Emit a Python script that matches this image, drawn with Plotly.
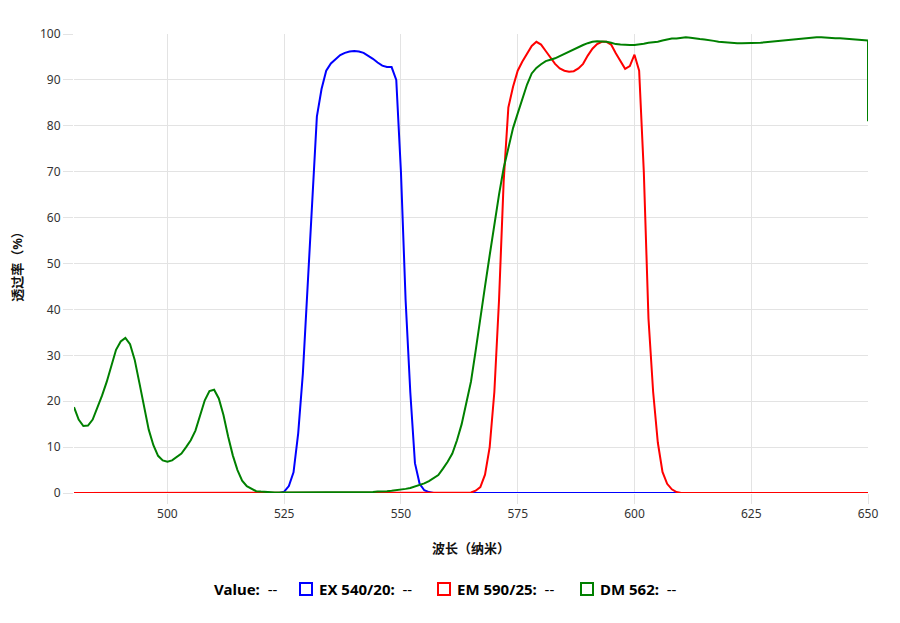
import plotly.graph_objects as go

# ---------------- data ----------------
ex_name = "EX 540/20"
em_name = "EM 590/25"
dm_name = "DM 562"

ex_x = [480] + list(range(524, 558)) + [650]
ex_y = [0, 0, 0.3, 1.5, 4.5, 13, 26, 45, 65, 82, 88, 92, 93.6, 94.6, 95.4, 95.9,
        96.2, 96.3, 96.2, 95.9, 95.3, 94.6, 93.8, 93.1, 92.8, 92.8, 90, 70, 42,
        22, 6.5, 2, 0.6, 0.2, 0, 0]

em_x = [480] + list(range(564, 611)) + [650]
em_y = [0, 0, 0.1, 0.5, 1.3, 4, 10, 22, 42, 68, 84, 88.5, 92, 94, 95.8, 97.4,
        98.3, 97.7, 96.3, 94.8, 93.5, 92.5, 92, 91.8, 91.9, 92.5, 93.5, 95.3,
        96.8, 97.8, 98.3, 98.3, 97.7, 95.8, 94, 92.4, 93, 95.5, 92, 70, 38, 22,
        11, 4.6, 2, 0.8, 0.2, 0, 0]

dm_x = list(range(480, 651)) + [650]
dm_y = ([18.7, 16.0, 14.6, 14.7, 16.0, 18.5, 21.2, 24.2, 28.0, 31.2, 33.0, 33.8,
         32.4, 29.0, 24.0, 18.6, 13.8, 10.4, 8.1, 7.1, 6.8, 7.1, 7.8, 8.6, 10.0,
         11.5, 13.6, 17.0, 20.2, 22.2, 22.5, 20.6, 17.0, 12.3, 8.2, 5.0, 2.7,
         1.5, 0.9, 0.4, 0.3, 0.2, 0.2, 0.1, 0.1]
        + [0.1] * 18
        + [0.2, 0.2, 0.3, 0.3, 0.4, 0.5, 0.6, 0.7, 0.9, 1.1, 1.4, 1.7, 2.1, 2.6,
           3.2, 3.9, 5.3, 6.8, 8.6, 11.5, 15.0, 19.3, 24.3, 31.0, 38.5, 45.0,
           51.8, 58.5, 65.0, 70.8, 75.5, 79.5, 82.7, 86.0, 89.0, 91.4, 92.6,
           93.4, 94.1, 94.4, 94.7, 95.2, 95.7, 96.1, 96.6, 97.1, 97.6, 98.0,
           98.3, 98.4, 98.4, 98.3, 98.1, 97.8, 97.7, 97.6, 97.6, 97.6, 97.7,
           97.9, 98.1, 98.2, 98.3, 98.6, 98.8, 99.0, 99.0, 99.1, 99.3, 99.2,
           99.0, 98.9, 98.8, 98.7, 98.5, 98.3, 98.2, 98.1, 98.0, 98.0, 98.0,
           98.0, 98.0, 98.0, 98.1, 98.2, 98.3, 98.4, 98.5, 98.7, 98.8, 98.9,
           99.0, 99.1, 99.2, 99.3, 99.3, 99.3, 99.2, 99.2, 99.1, 99.1, 99.0,
           99.0, 98.9, 98.8, 98.7, 98.6]
        + [81.0])

x_ticks = [500, 525, 550, 575, 600, 625, 650]
y_ticks = [0, 10, 20, 30, 40, 50, 60, 70, 80, 90, 100]

x_title = "波长（纳米）"
y_title = "透过率（%）"

# ---------------- figure ----------------
FONT = "Noto Sans, Noto Sans CJK SC, sans-serif"
GRID = "#e3e3e3"

fig = go.Figure()
fig.add_trace(go.Scatter(x=ex_x, y=ex_y, mode="lines", name=ex_name,
                         line=dict(color="#0000ff", width=2), showlegend=False))
fig.add_trace(go.Scatter(x=em_x, y=em_y, mode="lines", name=em_name,
                         line=dict(color="#ff0000", width=2), showlegend=False))
fig.add_trace(go.Scatter(x=dm_x, y=dm_y, mode="lines", name=dm_name,
                         line=dict(color="#008000", width=2), showlegend=False))

OFF = 8  # page body margin
W, H = 900, 623
L, R, T, B = 74 - OFF, 40, 34 - OFF, 138
pw, ph = W - L - R, H - T - B
plot_left_page = OFF + L
plot_bottom_page = OFF + H - B

def px(xp):
    return (xp - plot_left_page) / pw

def py(yp):
    return (plot_bottom_page - yp) / ph

fig.update_layout(
    width=W, height=H,
    margin=dict(l=L, r=R, t=T, b=B),
    plot_bgcolor="white", paper_bgcolor="white",
    font=dict(family=FONT, size=12, color="#333333"),
    xaxis=dict(range=[480, 650], tickvals=x_ticks, showgrid=True,
               gridcolor=GRID, gridwidth=1, zeroline=False, showline=False,
               ticks="outside", ticklen=10, tickcolor=GRID, automargin=False,
               tickfont=dict(size=12, color="#333333"),
               title=dict(text="<b>" + x_title + "</b>", standoff=22,
                          font=dict(size=13, color="#111111"))),
    yaxis=dict(range=[0, 100], tickvals=y_ticks, showgrid=True,
               gridcolor=GRID, gridwidth=1, zeroline=False, showline=False,
               ticks="outside", ticklen=10, tickcolor=GRID, automargin=False,
               tickfont=dict(size=12, color="#333333"),
               title=dict(text="<b>" + y_title + "</b>", standoff=14,
                          font=dict(size=13, color="#111111"))),
)

# custom legend below the chart
leg_y = py(589)
fig.add_annotation(x=px(212), y=leg_y, xref="paper", yref="paper",
                   text="<b>Value:</b>  --", showarrow=False, xanchor="left",
                   yanchor="middle", font=dict(size=15, color="#000000"))
for name, color, sq_x, tx in [(ex_name, "#0000ff", 306, 317),
                              (em_name, "#ff0000", 444, 455),
                              (dm_name, "#008000", 587, 598)]:
    fig.add_shape(type="rect", xref="paper", yref="paper",
                  xsizemode="pixel", ysizemode="pixel",
                  xanchor=px(sq_x), yanchor=leg_y,
                  x0=-6, x1=6, y0=-6, y1=6,
                  line=dict(color=color, width=2), fillcolor="rgba(0,0,0,0)")
    fig.add_annotation(x=px(tx), y=leg_y, xref="paper", yref="paper",
                       text="<b>" + name + ":</b>  --", showarrow=False,
                       xanchor="left", yanchor="middle",
                       font=dict(size=15, color="#000000"))

fig.write_html("out.html")
